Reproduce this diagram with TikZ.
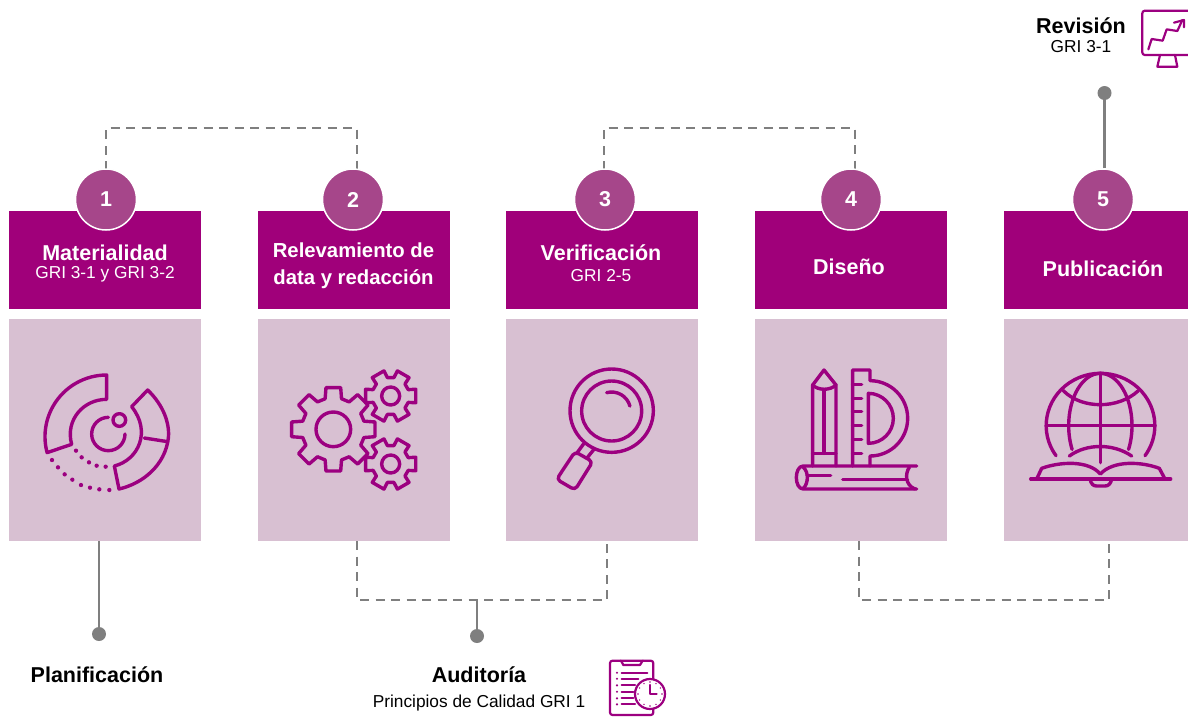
\documentclass[tikz,border=0pt]{standalone}
\usepackage{fontspec}
\setmainfont{Liberation Sans}
\definecolor{headc}{HTML}{A0007A}
\definecolor{bodyc}{HTML}{D8C0D2}
\definecolor{numc}{HTML}{A6468A}
\definecolor{iconc}{HTML}{9C0080}
\definecolor{linec}{HTML}{7F7F7F}
\tikzset{
  headbox/.style={fill=headc, anchor=north west, inner sep=0pt, minimum width=192pt, minimum height=98pt},
  bodybox/.style={fill=bodyc, anchor=north west, inner sep=0pt, minimum width=192pt, minimum height=222pt},
  numdot/.style={circle, fill=numc, draw=white, line width=1.5pt, minimum size=61pt, inner sep=0pt, text=white, font=\fontsize{21.5}{24}\selectfont\bfseries},
  headtxt/.style={text=white, align=center, inner sep=0pt, font=\fontsize{21.5}{27}\selectfont\bfseries},
  subtxt/.style={text=white, inner sep=0pt, font=\fontsize{17.3}{20}\selectfont},
  boldtxt/.style={text=black, inner sep=0pt, font=\fontsize{21.5}{24}\selectfont\bfseries},
  plaintxt/.style={text=black, inner sep=0pt, font=\fontsize{17.3}{20}\selectfont},
  dashline/.style={draw=linec, line width=2.8pt, dash pattern=on 9pt off 6.5pt},
  solidline/.style={draw=linec, line width=2.8pt},
  pinend/.style={circle, fill=linec, minimum size=14pt, inner sep=0pt},
  icon/.style={draw=iconc, line width=3.4pt, line join=round, line cap=round},
  thinicon/.style={draw=iconc, line width=2.2pt, line join=round, line cap=round},
}
% #1 centre x, #2 centre y, #3 root radius, #4 tip radius, #5 list of tooth angles, #6 half width
\newcommand{\drawgear}[6]{
  \begin{scope}[shift={(#1,#2)}]
    \draw[icon] ({-#6}:#3) \foreach \a in {#5} { -- ({\a-#6}:#3) -- ({\a-#6+5}:#4) -- ({\a+#6-5}:#4) -- ({\a+#6}:#3) } -- cycle;
  \end{scope}
}
\begin{document}
\begin{tikzpicture}[x=1pt, y=1pt]
  \useasboundingbox (0,-716) rectangle (1188,0);
  % dashed links
  \coordinate (top1) at (106,-170); \coordinate (top2) at (357,-170);
  \coordinate (top3) at (604,-170); \coordinate (top4) at (855,-170);
  \coordinate (low2) at (357,-541); \coordinate (low3) at (607,-541);
  \coordinate (low4) at (859,-541); \coordinate (low5) at (1109,-541);
  \draw[dashline] (top1) -- (106,-128) -| (top2);
  \draw[dashline] (top3) -- (604,-128) -| (top4);
  \draw[dashline] (low2) -- (357,-600) -| (low3);
  \draw[dashline] (low4) -- (859,-600) -| (low5);
  % boxes
  \node[headbox] (head1) at (9,-211) {};
  \node[headbox] (head2) at (258,-211) {};
  \node[headbox] (head3) at (506,-211) {};
  \node[headbox] (head4) at (755,-211) {};
  \node[headbox, minimum width=184pt] (head5) at (1004,-211) {};
  \node[bodybox] (body1) at (9,-319) {};
  \node[bodybox] (body2) at (258,-319) {};
  \node[bodybox] (body3) at (506,-319) {};
  \node[bodybox] (body4) at (755,-319) {};
  \node[bodybox, minimum width=184pt] (body5) at (1004,-319) {};
  % numbers
  \node[numdot] (num1) at (106,-199.5) {1};
  \node[numdot] (num2) at (353,-199.5) {2};
  \node[numdot] (num3) at (605,-199.5) {3};
  \node[numdot] (num4) at (851,-199.5) {4};
  \node[numdot] (num5) at (1103,-199.5) {5};
  % titles
  \node[headtxt] (mat) at (105,-253) {Materialidad};
  \node[subtxt] (matsub) at (105,-274.5) {GRI 3-1 y GRI 3-2};
  \node[headtxt, font=\fontsize{20.3}{27}\selectfont\bfseries] (rel) at (353.5,-266) {Relevamiento de\\data y redacción};
  \node[headtxt] (ver) at (601,-253) {Verificación};
  \node[subtxt] (versub) at (601,-276) {GRI 2-5};
  \node[headtxt] (dis) at (849,-267) {Diseño};
  \node[headtxt] (pub) at (1103,-269) {Publicación};
  % solid stems
  \node[pinend] (pin1) at (99,-634) {};
  \node[pinend] (pin2) at (477,-636) {};
  \node[pinend] (pin3) at (1104.5,-93) {};
  \coordinate (mid2) at (477,-600);
  \draw[solidline] (body1.south -| pin1) -- (pin1);
  \draw[solidline] (mid2) -- (pin2);
  \draw[solidline] (1104.5,-168) -- (pin3);
  % outer labels
  \node[boldtxt] (plan) at (97,-675) {Planificación};
  \node[boldtxt] (aud) at (479,-675) {Auditoría};
  \node[plaintxt] (audsub) at (479,-703.5) {Principios de Calidad GRI 1};
  \node[boldtxt] (rev) at (1081,-26) {Revisión};
  \node[plaintxt] (revsub) at (1081,-47) {GRI 3-1};
  % chart icon
  \begin{scope}[shift={(0,-340)}, scale=1/3]
    \draw[icon] (320,-105) arc[start angle=90, end angle=195, radius=185] -- (215,-313) .. controls (195,-240) and (250,-178) .. (320,-178) -- cycle;
    \draw[icon] (443,-150) .. controls (490,-195) and (510,-250) .. (505,-295) .. controls (495,-375) and (430,-430) .. (357,-447) -- (343,-378) .. controls (415,-360) and (455,-275) .. (395,-200) -- cycle;
    \draw[icon] (433,-294) -- (503,-305);
    \draw[icon] (325,-232) arc[start angle=90, end angle=360, radius=50];
    \draw[icon] (358,-240) circle[radius=19];
    \foreach \px/\py in {228/332,245/352,267/367,290/377,317/380,156/360,174/382,194/403,217/419,243/435,270/443,298/448,328/450}
      \fill[iconc] (\px,-\py) circle[radius=6.5];
  \end{scope}
  % gears icon
  \begin{scope}[shift={(0,-340)}, scale=1/3]
    \drawgear{1000}{-268}{95}{127}{0,45,90,135,180,225,270,315}{15}
    \drawgear{1172}{-168}{56}{78}{0,60,120,180,240,300}{20}
    \drawgear{1172}{-372}{56}{78}{0,60,120,180,240,300}{20}
    \draw[icon] (1000,-268) circle[radius=52];
    \draw[icon] (1172,-168) circle[radius=27];
    \draw[icon] (1172,-372) circle[radius=27];
  \end{scope}
  % lens icon
  \begin{scope}[shift={(520,-340)}, scale=1/3]
    \draw[icon] (275,-212) circle[radius=125];
    \draw[icon] (275,-213) circle[radius=90];
    \draw[icon] (260,-158) arc[start angle=105, end angle=15, radius=57];
    \draw[icon] (192,-310) -- (170,-340);
    \draw[icon] (222,-328) -- (200,-355);
    \draw[icon, rounded corners=4pt] (165,-335) -- (218,-365) -- (165,-450) -- (110,-418) -- cycle;
  \end{scope}
  % pencil, ruler and book icon
  \begin{scope}[shift={(520,-340)}, scale=1/3]
    \draw[icon] (878,-378) -- (878,-135) -- (912,-90) -- (948,-135) -- (948,-378);
    \draw[icon] (878,-135) .. controls (895,-152) and (930,-152) .. (948,-135);
    \draw[icon] (912,-150) -- (912,-340);
    \draw[icon] (878,-340) -- (948,-340);
    \draw[icon] (998,-378) -- (998,-90) -- (1050,-90) -- (1050,-122) arc[start angle=90, end angle=-90, radius=113] -- (1050,-378);
    \draw[icon] (1045,-160) arc[start angle=90, end angle=-90, radius=75] -- cycle;
    \foreach \ty in {133,175,215,257,298,340}
      \draw[icon] (998,-\ty) -- (1025,-\ty);
    \draw[icon] (1190,-378) -- (850,-378) .. controls (822,-378) and (822,-447) .. (850,-447) -- (1190,-447);
    \draw[icon] (850,-382) .. controls (866,-395) and (866,-430) .. (850,-445);
    \draw[icon] (1168,-382) .. controls (1155,-400) and (1155,-435) .. (1185,-447);
    \draw[icon] (862,-407) -- (932,-407);
    \draw[icon] (968,-418) -- (1162,-418);
  \end{scope}
  % globe icon
  \begin{scope}[shift={(1010,-360)}, scale=1/3]
    \draw[icon] (138,-287) arc[start angle=215, end angle=-35, x radius=163, y radius=157];
    \draw[icon] (271,-40) -- (271,-308);
    \draw[icon] (108,-197) -- (435,-197);
    \draw[icon] (271,-40) arc[start angle=90, end angle=207, x radius=95, y radius=157];
    \draw[icon] (271,-40) arc[start angle=90, end angle=-27, x radius=95, y radius=157];
    \draw[icon] (160,-92) .. controls (215,-148) and (325,-148) .. (385,-92);
    \draw[icon] (178,-288) .. controls (230,-250) and (310,-250) .. (365,-288);
    \draw[icon] (62,-357) -- (482,-357);
    \draw[icon] (80,-357) -- (95,-325) .. controls (150,-305) and (235,-300) .. (271,-342) .. controls (310,-300) and (395,-305) .. (448,-325) -- (465,-357);
    \draw[icon] (240,-357) .. controls (243,-372) and (250,-378) .. (260,-378) -- (285,-378) .. controls (295,-378) and (302,-372) .. (305,-357);
  \end{scope}
  % monitor icon
  \begin{scope}[shift={(1010,0)}, scale=1/3]
    \draw[thinicon, rounded corners=2.5pt] (537,-32) -- (397,-32) -- (397,-165) -- (537,-165);
    \draw[thinicon] (415,-148) -- (425,-117) -- (458,-122) -- (470,-88) -- (502,-93) -- (517,-60);
    \draw[thinicon] (492,-68) -- (522,-60) -- (522,-82);
    \draw[thinicon] (450,-165) -- (442,-200) -- (502,-200) -- (495,-165);
  \end{scope}
  % clipboard icon
  \begin{scope}[shift={(360,-620)}, scale=1/3]
    \draw[thinicon, rounded corners=2.5pt] (880,-178) -- (880,-122) -- (750,-122) -- (750,-285) -- (880,-285) -- (880,-266);
    \draw[thinicon] (783,-122) -- (790,-135) -- (840,-135) -- (848,-122);
    \foreach \ly/\lx in {158/862,176/835,196/825,215/820,235/820,253/825}
      \draw[thinicon] (785,-\ly) -- (\lx,-\ly);
    \foreach \ly in {158,176,196,215,235,253}
      \fill[iconc] (771,-\ly) circle[radius=3.5];
    \draw[thinicon] (870,-222) circle[radius=45];
    \foreach \ca in {0,30,...,330}
      \fill[iconc] (870,-222) ++(\ca:36) circle[radius=2.5];
    \draw[thinicon] (870,-195) -- (870,-222) -- (890,-222);
  \end{scope}
\end{tikzpicture}
\end{document}
